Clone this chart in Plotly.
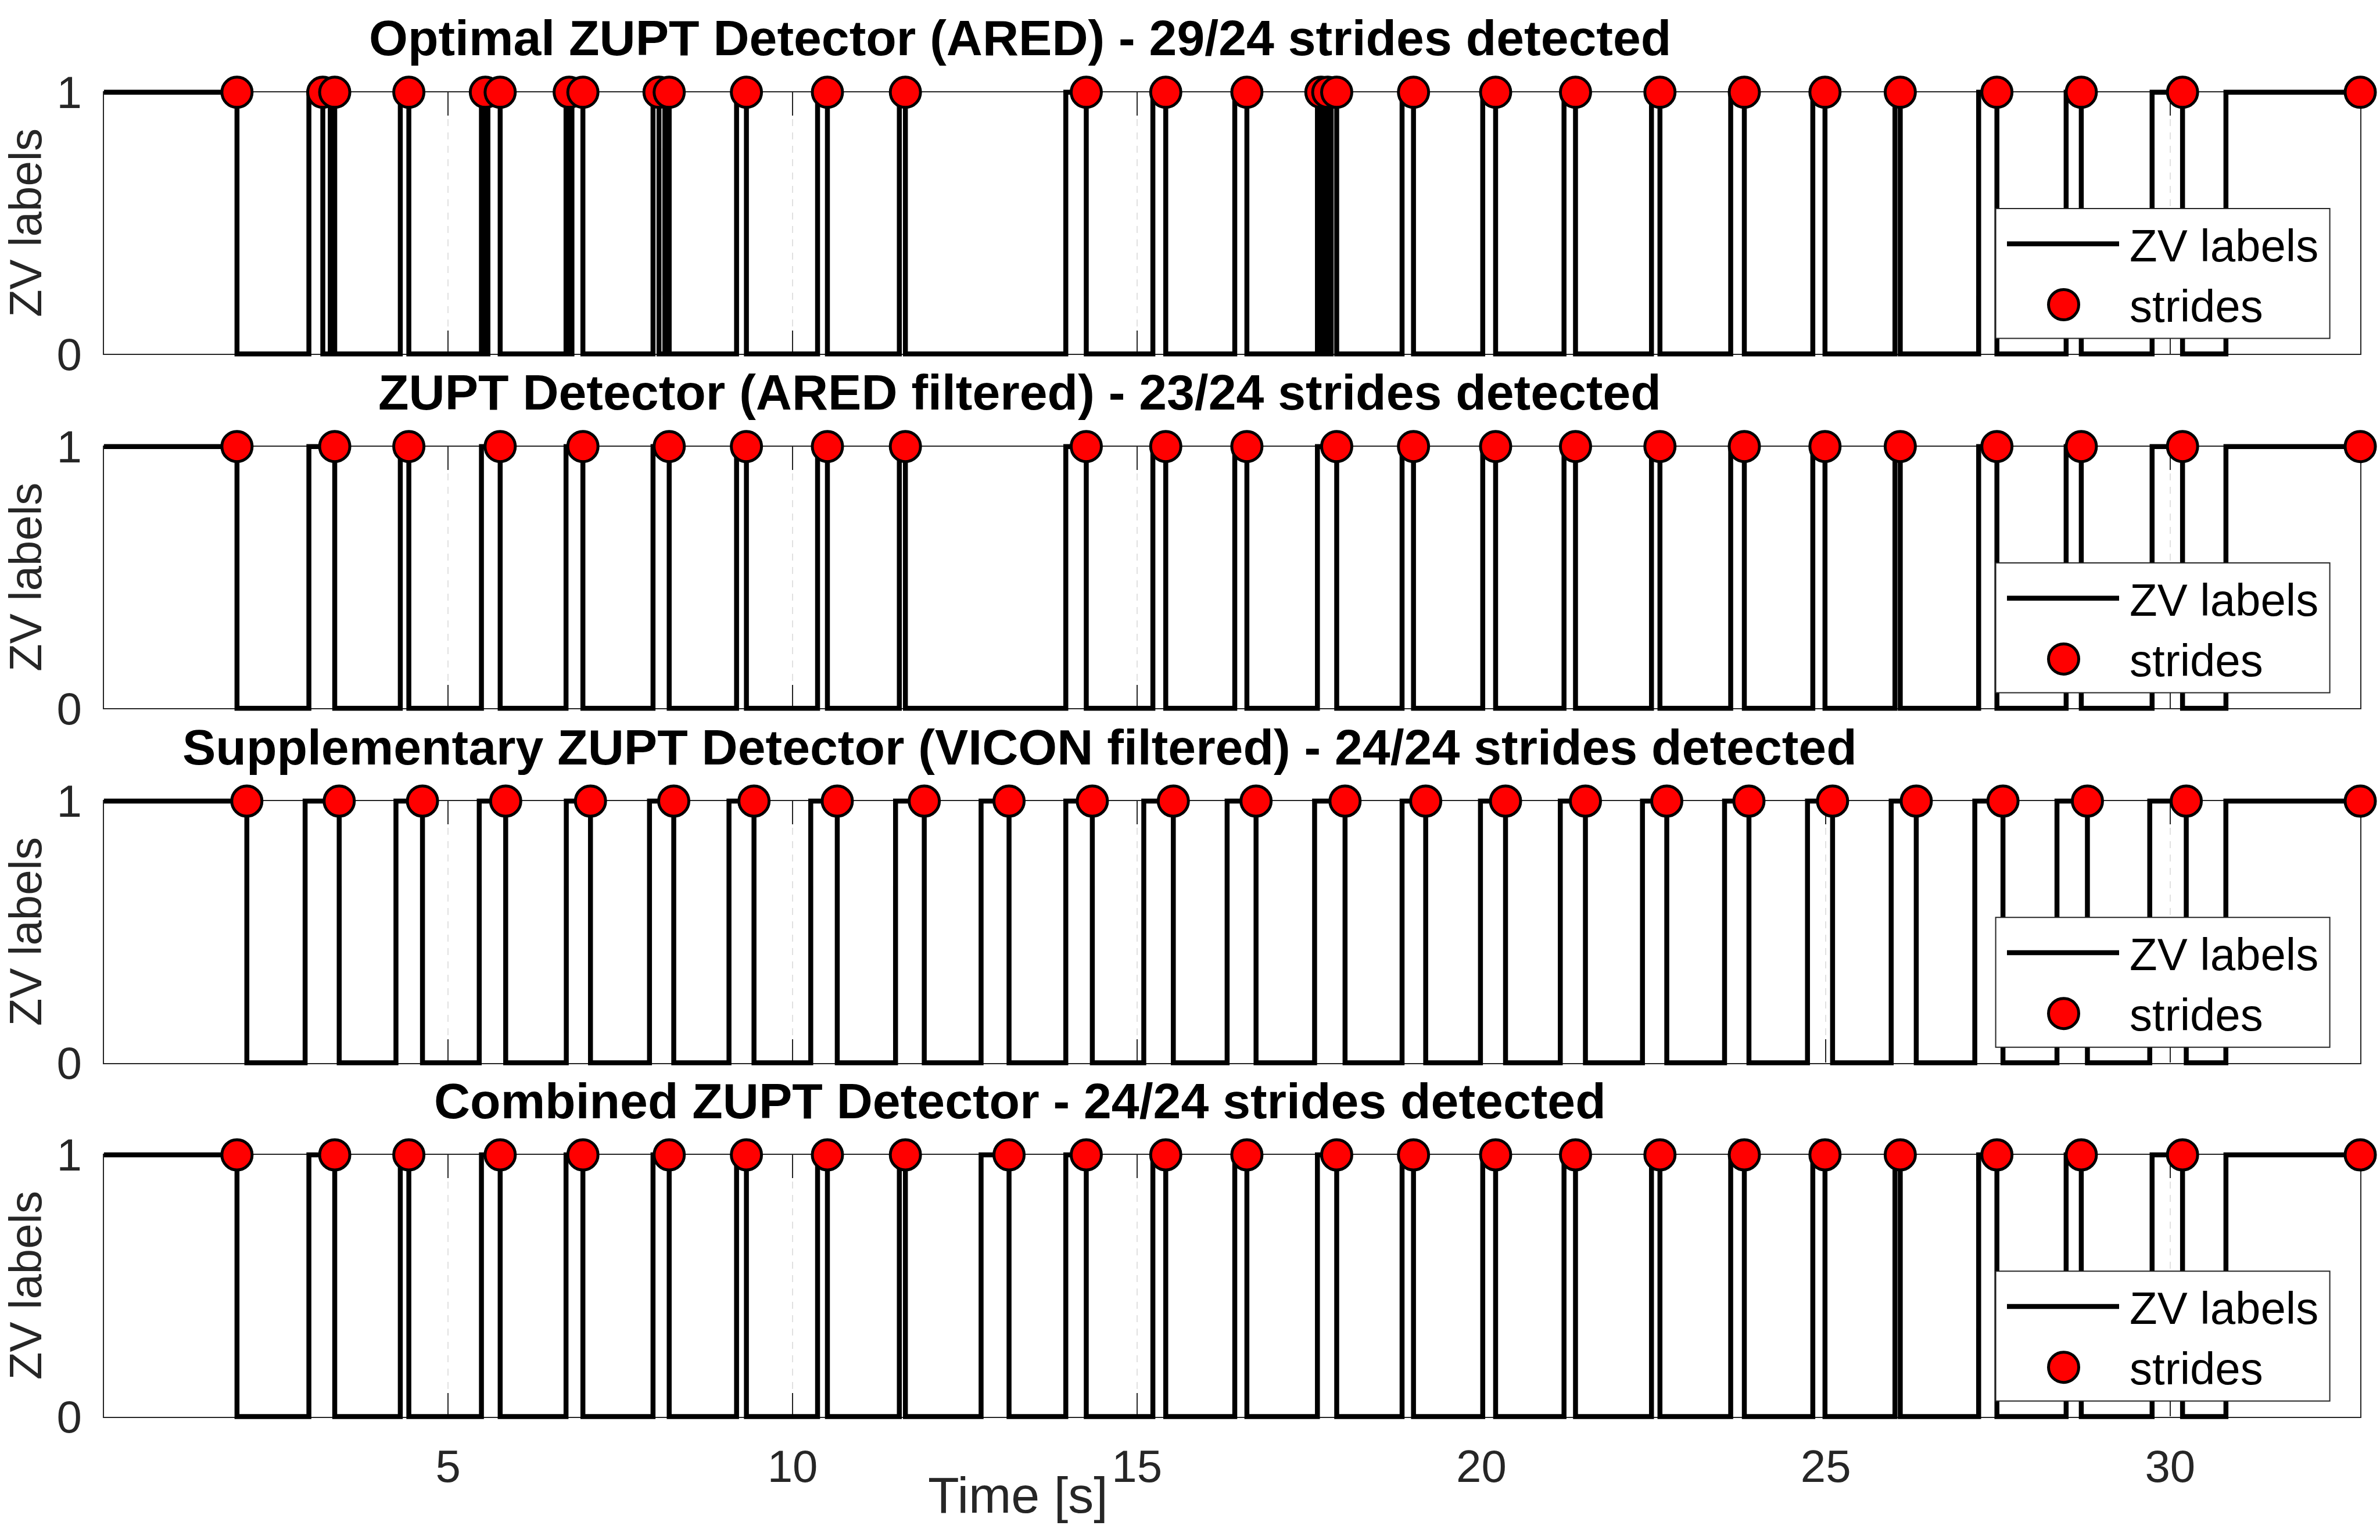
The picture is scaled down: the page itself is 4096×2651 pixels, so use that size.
import plotly.graph_objects as go

# ---------------- data ----------------
T_START = 0.0
T_END = 32.76

titles = [
    "Optimal ZUPT Detector (ARED) - 29/24 strides detected",
    "ZUPT Detector (ARED filtered) - 23/24 strides detected",
    "Supplementary ZUPT Detector (VICON filtered) - 24/24 strides detected",
    "Combined ZUPT Detector - 24/24 strides detected",
]
x_tickvals = [5, 10, 15, 20, 25, 30]
y_tickvals = [0, 1]
x_label = "Time [s]"
y_label = "ZV labels"
legend_labels = ["ZV labels", "strides"]

# times where the ZV label drops 1 -> 0 (these are the detected strides)
ared_falls = [1.934, 3.180, 3.353, 4.429, 5.540, 5.755, 6.757, 6.956, 8.061, 8.209,
              9.330, 10.506, 11.638, 14.264, 15.418, 16.596, 17.67, 17.77, 17.90,
              19.015, 20.207, 21.367, 22.593, 23.818, 24.989, 26.082, 27.485, 28.71, 30.18]
# times where the ZV label rises 0 -> 1
ared_rises = [2.978, 3.288, 4.305, 5.483, 5.577, 6.711, 6.797, 7.974, 8.146, 9.187,
              10.363, 11.55, 13.967, 15.231, 16.42, 17.62, 17.71, 17.82, 18.849,
              20.02, 21.2, 22.47, 23.62, 24.812, 26.005, 27.22, 28.49, 29.738, 30.81]

aredf_falls = [1.934, 3.353, 4.429, 5.755, 6.956, 8.209, 9.330, 10.506, 11.638, 14.264,
               15.418, 16.596, 17.90, 19.015, 20.207, 21.367, 22.593, 23.818, 24.989,
               26.082, 27.485, 28.71, 30.18]
aredf_rises = [2.978, 4.305, 5.483, 6.711, 7.974, 9.187, 10.363, 11.55, 13.967, 15.231,
               16.42, 17.62, 18.849, 20.02, 21.2, 22.47, 23.62, 24.812, 26.005, 27.22,
               28.49, 29.738, 30.81]

vicon_falls = [2.077, 3.418, 4.627, 5.835, 7.066, 8.275, 9.440, 10.649, 11.912, 13.143,
               14.352, 15.528, 16.729, 18.021, 19.192, 20.351, 21.511, 22.692, 23.885,
               25.099, 26.314, 27.573, 28.799, 30.234]
vicon_rises = [2.923, 4.242, 5.451, 6.715, 7.923, 9.077, 10.264, 11.495, 12.737, 13.967,
               15.099, 16.309, 17.579, 18.849, 19.987, 21.146, 22.339, 23.531, 24.735,
               25.95, 27.164, 28.357, 29.704, 30.809]

comb_falls = [1.934, 3.353, 4.429, 5.755, 6.956, 8.209, 9.330, 10.506, 11.638, 13.143,
              14.264, 15.418, 16.596, 17.90, 19.015, 20.207, 21.367, 22.593, 23.818,
              24.989, 26.082, 27.485, 28.71, 30.18]
comb_rises = [2.978, 4.305, 5.483, 6.711, 7.974, 9.187, 10.363, 11.55, 12.737, 13.967,
              15.231, 16.42, 17.62, 18.849, 20.02, 21.2, 22.47, 23.62, 24.812, 26.005,
              27.22, 28.49, 29.738, 30.81]

panels = [(ared_falls, ared_rises), (aredf_falls, aredf_rises),
          (vicon_falls, vicon_rises), (comb_falls, comb_rises)]

# ---------------- layout constants (pixels) ----------------
W, H = 4096, 2651
AX_LEFT, AX_RIGHT = 178.6, 4062.0
AX_TOPS = [158.8, 768.7, 1379.0, 1988.0]
AX_H = 450.5
PAD = 12.0          # extra room so thick lines at 0/1 are not clipped
FONT = "Liberation Sans, Arial, Helvetica, sans-serif"
AXC = "#262626"
CENTER_X = 1755.0


def step_xy(falls, rises):
    ev = sorted([(t, 0) for t in falls] + [(t, 1) for t in rises])
    xs, ys = [T_START], [1]
    for t, kind in ev:
        xs += [t, t]
        ys += ([1, 0] if kind == 0 else [0, 1])
    xs.append(T_END)
    ys.append(1)
    return xs, ys


def px_x(x):
    return x / W


def px_y(y):
    return 1 - y / H


fig = go.Figure()
layout = dict(
    width=W, height=H, margin=dict(l=0, r=0, t=0, b=0, pad=0, autoexpand=False),
    paper_bgcolor="white", plot_bgcolor="rgba(0,0,0,0)",
    showlegend=False, font=dict(family=FONT, color=AXC),
)
shapes, annotations = [], []

for i, (falls, rises) in enumerate(panels):
    n = i + 1
    sfx = "" if n == 1 else str(n)
    dsfx = str(n + 4)
    top = AX_TOPS[i]
    bot = top + AX_H
    d0, d1 = px_y(bot), px_y(top)
    pad_f = PAD / H
    pad_u = PAD / AX_H
    xdom = [px_x(AX_LEFT), px_x(AX_RIGHT)]

    # visible frame axes
    layout["xaxis" + sfx] = dict(
        domain=xdom, range=[T_START, T_END],
        anchor="y" + sfx, showline=True, linecolor=AXC, linewidth=2.3,
        mirror="ticks", ticks="inside", ticklen=40, tickwidth=2.3, tickcolor=AXC,
        tickvals=x_tickvals, ticktext=[str(v) for v in x_tickvals],
        showticklabels=(n == 4), tickfont=dict(size=78, color=AXC, family=FONT),
        ticklabelstandoff=17,
        showgrid=True, gridcolor="#e1e1e1", gridwidth=1.8, griddash="12px,11px",
        zeroline=False, fixedrange=True,
    )
    layout["yaxis" + sfx] = dict(
        domain=[d0, d1], range=[0, 1], anchor="x" + sfx,
        showline=True, linecolor=AXC, linewidth=2.3, mirror="ticks",
        ticks="inside", ticklen=40, tickwidth=2.3, tickcolor=AXC,
        tickvals=y_tickvals, ticktext=[str(v) for v in y_tickvals],
        tickfont=dict(size=78, color=AXC, family=FONT), ticklabelstandoff=20,
        showgrid=False, zeroline=False, fixedrange=True,
    )
    # invisible data axes: same scale, y domain padded so thick lines at 0/1 show fully
    layout["xaxis" + dsfx] = dict(
        domain=xdom, range=[T_START, T_END], anchor="y" + dsfx,
        visible=False, fixedrange=True,
    )
    layout["yaxis" + dsfx] = dict(
        domain=[d0 - pad_f, d1 + pad_f], range=[-pad_u, 1 + pad_u],
        anchor="x" + dsfx, visible=False, fixedrange=True,
    )

    # frame placeholder trace (so the frame subplot is drawn)
    fig.add_trace(go.Scatter(x=[None], y=[None], mode="lines", xaxis="x" + sfx,
                             yaxis="y" + sfx, hoverinfo="skip", showlegend=False))

    xs, ys = step_xy(falls, rises)
    fig.add_trace(go.Scatter(x=xs, y=ys, mode="lines", xaxis="x" + dsfx,
                             yaxis="y" + dsfx, line=dict(color="black", width=8.5),
                             hoverinfo="skip", name=legend_labels[0]))
    sx = list(falls) + [T_END]
    sy = [1] * len(sx)
    fig.add_trace(go.Scatter(x=sx, y=sy, mode="markers", xaxis="x" + dsfx,
                             yaxis="y" + dsfx, cliponaxis=False,
                             marker=dict(size=52, color="#ff0000",
                                         line=dict(color="black", width=5)),
                             hoverinfo="skip", name=legend_labels[1]))

    # title
    annotations.append(dict(text="<b>%s</b>" % titles[i], xref="paper", yref="paper",
                            x=px_x(CENTER_X), y=px_y(top - 93.5), xanchor="center",
                            yanchor="middle", showarrow=False,
                            font=dict(size=86, color="black", family=FONT)))
    # y label
    annotations.append(dict(text=y_label, xref="paper", yref="paper",
                            x=px_x(44), y=px_y(top + AX_H / 2), xanchor="center",
                            yanchor="middle", textangle=-90, showarrow=False,
                            font=dict(size=78, color=AXC, family=FONT)))

    # legend box (drawn manually to match the reference proportions)
    bx0, bx1 = 3434.6, 4009.6
    by0, by1 = top + 200.2, top + 423.7
    shapes.append(dict(type="rect", xref="paper", yref="paper",
                       x0=px_x(bx0), x1=px_x(bx1), y0=px_y(by1), y1=px_y(by0),
                       fillcolor="white", line=dict(color=AXC, width=2), layer="above"))
    ly = top + 261.0
    shapes.append(dict(type="line", xref="paper", yref="paper",
                       x0=px_x(3454), x1=px_x(3647), y0=px_y(ly), y1=px_y(ly),
                       line=dict(color="black", width=8.5), layer="above"))
    cx, cy, r = 3551.5, top + 365.7, 26
    shapes.append(dict(type="circle", xref="paper", yref="paper",
                       x0=px_x(cx - r), x1=px_x(cx + r), y0=px_y(cy + r), y1=px_y(cy - r),
                       fillcolor="#ff0000", line=dict(color="black", width=5), layer="above"))
    annotations.append(dict(text=legend_labels[0], xref="paper", yref="paper",
                            x=px_x(3663), y=px_y(top + 264.0), xanchor="left",
                            yanchor="middle", showarrow=False,
                            font=dict(size=78, color="black", family=FONT)))
    annotations.append(dict(text=legend_labels[1], xref="paper", yref="paper",
                            x=px_x(3663), y=px_y(top + 368.0), xanchor="left",
                            yanchor="middle", showarrow=False,
                            font=dict(size=78, color="black", family=FONT)))

# x label
annotations.append(dict(text=x_label, xref="paper", yref="paper",
                        x=px_x(1752), y=px_y(2573), xanchor="center", yanchor="middle",
                        showarrow=False, font=dict(size=88, color=AXC, family=FONT)))

layout["shapes"] = shapes
layout["annotations"] = annotations
fig.update_layout(**layout)
fig.write_html("out.html")
